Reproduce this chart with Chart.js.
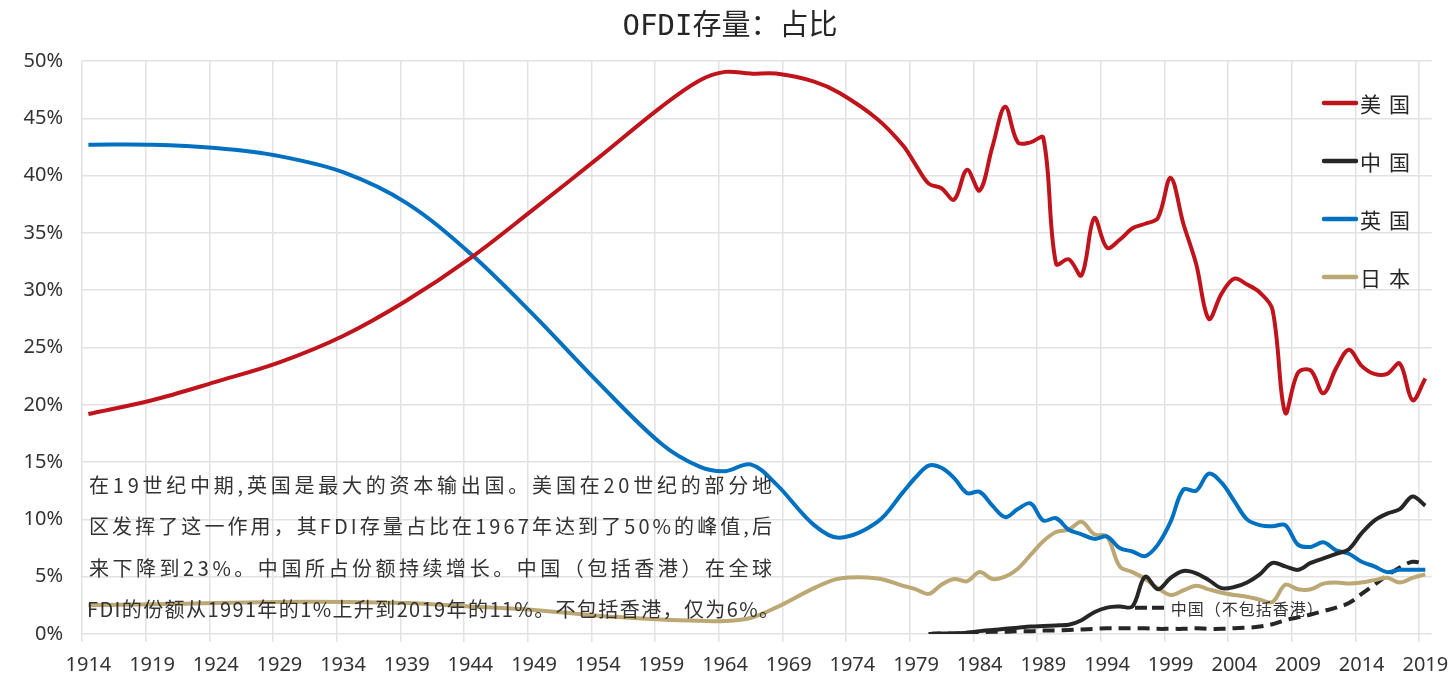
<!DOCTYPE html>
<html>
<head>
<meta charset="utf-8">
<script src="https://cdn.jsdelivr.net/npm/chart.js@4.4.1/dist/chart.umd.min.js"></script>
<style>
  html, body { margin: 0; padding: 0; background: #fff; }
  #wrap { width: 1453px; height: 692px; }
</style>
</head>
<body>
<div id="wrap"><canvas id="ofdiChart" width="1453" height="692"></canvas></div>
<script>
// años (antes de 1979 la curva es suave)
const years = [1914, 1919, 1924, 1929, 1934, 1939, 1944, 1949, 1954, 1959, 1962, 1964, 1966, 1968, 1971, 1973, 1976, 1978,
  1979, 1980, 1981, 1982, 1983, 1984, 1985, 1986, 1987, 1988, 1989, 1990, 1991, 1992, 1993, 1994, 1995, 1996, 1997, 1998, 1999,
  2000, 2001, 2002, 2003, 2004, 2005, 2006, 2007, 2008, 2009, 2010, 2011, 2012, 2013, 2014, 2015, 2016, 2017, 2018, 2019];

// % del stock mundial de OFDI
const usShare = [19.2, 20.4, 22.0, 23.7, 26.0, 29.1, 32.8, 37.1, 41.5, 46.0, 48.3, 49.05, 48.9, 48.9, 48.2, 47.2, 44.9, 42.6,
  40.9, 39.3, 38.9, 37.9, 40.5, 38.7, 42.5, 46.0, 42.9, 42.9, 43.3, 32.3, 32.7, 31.3, 36.3, 33.7, 34.4, 35.4, 35.8, 36.3, 39.8,
  35.8, 32.3, 27.5, 29.7, 31.0, 30.5, 29.8, 28.3, 19.3, 22.8, 23.0, 21.0, 23.2, 24.8, 23.4, 22.7, 22.7, 23.6, 20.4, 22.3];

const ukShare = [42.7, 42.7, 42.4, 41.7, 40.3, 37.6, 33.2, 27.8, 22.0, 16.6, 14.6, 14.2, 14.8, 13.1, 9.5, 8.4, 9.8, 12.4,
  13.7, 14.7, 14.5, 13.6, 12.3, 12.4, 11.2, 10.2, 10.9, 11.4, 9.9, 10.1, 9.1, 8.7, 8.3, 8.5, 7.5, 7.2, 6.8, 7.8, 9.8,
  12.6, 12.5, 14.0, 13.2, 11.6, 10.0, 9.5, 9.4, 9.5, 7.8, 7.6, 8.0, 7.3, 7.0, 6.3, 5.9, 5.4, 5.6, 5.6, 5.6];

const jpShare = [2.5, 2.6, 2.7, 2.8, 2.8, 2.7, 2.4, 2.1, 1.6, 1.27, 1.15, 1.13, 1.4, 2.3, 4.0, 4.85, 4.85, 4.2,
  3.9, 3.5, 4.3, 4.8, 4.6, 5.4, 4.8, 5.0, 5.7, 6.9, 8.1, 8.9, 9.1, 9.8, 8.7, 8.5, 5.9, 5.4, 4.8, 4.0, 3.4,
  3.8, 4.2, 3.9, 3.6, 3.4, 3.25, 3.0, 2.8, 4.3, 3.9, 3.9, 4.4, 4.5, 4.4, 4.5, 4.7, 4.9, 4.5, 4.9, 5.2];

const cnShare = [null, null, null, null, null, null, null, null, null, null, null, null, null, null, null, null, null, null,
  null, 0.0, 0.05, 0.05, 0.1, 0.25, 0.35, 0.45, 0.55, 0.65, 0.7, 0.75, 0.8, 1.2, 1.9, 2.3, 2.4, 2.4, 5.0, 3.9, 4.9,
  5.5, 5.3, 4.7, 4.0, 4.1, 4.5, 5.2, 6.2, 5.9, 5.6, 6.2, 6.6, 7.0, 7.4, 8.8, 9.9, 10.5, 10.9, 12.0, 11.2];

const cnExHkShare = [null, null, null, null, null, null, null, null, null, null, null, null, null, null, null, null, null, null,
  null, 0.0, 0.05, 0.05, 0.1, 0.15, 0.2, 0.2, 0.25, 0.25, 0.3, 0.3, 0.35, 0.4, 0.45, 0.5, 0.5, 0.5, 0.5, 0.45, 0.45,
  0.45, 0.5, 0.45, 0.45, 0.5, 0.55, 0.65, 0.85, 1.2, 1.45, 1.7, 2.0, 2.3, 2.7, 3.5, 4.3, 5.1, 5.8, 6.3, 6.1];

const yTicks = [0, 5, 10, 15, 20, 25, 30, 35, 40, 45, 50];

const titulo = 'OFDI存量：占比';
const notaCn = '中国（不包括香港）';
const nota = [
  '在19世纪中期,英国是最大的资本输出国。美国在20世纪的部分地',
  '区发挥了这一作用，其FDI存量占比在1967年达到了50%的峰值,后',
  '来下降到23%。中国所占份额持续增长。中国（包括香港）在全球',
  'FDI的份额从1991年的1%上升到2019年的11%。不包括香港，仅为6%。'
];

const colores = { us: '#c0141c', cn: '#262626', uk: '#0070c0', jp: '#bca874' };
const leyenda = [
  { label: '美国', color: colores.us },
  { label: '中国', color: colores.cn },
  { label: '英国', color: colores.uk },
  { label: '日本', color: colores.jp }
];

const toPoints = (vals) => years.map((y, i) => ({ x: y, y: vals[i] }));

// dibuja texto repartido a un ancho fijo
function drawSpread(ctx, text, x, y, width) {
  const chars = Array.from(text);
  const natural = chars.reduce((s, c) => s + ctx.measureText(c).width, 0);
  const extra = chars.length > 1 ? (width - natural) / (chars.length - 1) : 0;
  let cx = x;
  chars.forEach(c => {
    ctx.fillText(c, cx, y);
    cx += ctx.measureText(c).width + extra;
  });
}

const extras = {
  id: 'extras',
  beforeDraw(chart) {
    const ctx = chart.ctx;
    ctx.save();
    ctx.fillStyle = '#fff';
    ctx.fillRect(0, 0, chart.width, chart.height);
    ctx.restore();
  },
  afterDatasetsDraw(chart) {
    const ctx = chart.ctx;
    const area = chart.chartArea;
    const xs = chart.scales.x, ys = chart.scales.y;
    ctx.save();

    // titulo
    ctx.fillStyle = '#262626';
    ctx.font = '29px "DejaVu Sans Mono", "Noto Sans CJK SC"';
    ctx.textAlign = 'center';
    ctx.textBaseline = 'middle';
    ctx.fillText(titulo, 730, 27);

    // leyenda
    ctx.textAlign = 'left';
    ctx.font = '21px "Noto Sans CJK SC"';
    leyenda.forEach((it, i) => {
      const y = area.top + 42 + i * 58;
      ctx.strokeStyle = it.color;
      ctx.lineWidth = 4.5;
      ctx.lineCap = 'round';
      ctx.beginPath();
      ctx.moveTo(1324, y);
      ctx.lineTo(1356, y);
      ctx.stroke();
      ctx.fillStyle = '#262626';
      drawSpread(ctx, it.label, 1360, y + 1, 50);
    });

    // etiqueta China sin Hong Kong
    const ly = ys.getPixelForValue(2.3);
    ctx.strokeStyle = colores.cn;
    ctx.lineWidth = 4;
    ctx.lineCap = 'butt';
    ctx.setLineDash([12, 5]);
    ctx.beginPath();
    ctx.moveTo(xs.getPixelForValue(1996.2), ly);
    ctx.lineTo(xs.getPixelForValue(1998.7), ly);
    ctx.stroke();
    ctx.setLineDash([]);
    ctx.fillStyle = '#333';
    ctx.font = '16px "Noto Sans CJK SC"';
    drawSpread(ctx, notaCn, xs.getPixelForValue(1999.0), ly + 1, 152);

    // nota
    ctx.font = '20px "Noto Sans CJK SC"';
    ctx.fillStyle = '#333';
    nota.forEach((line, i) => {
      const w = i === 3 ? 692 : 683;
      drawSpread(ctx, line, area.left + (i === 3 ? 5 : 7), 485 + i * 41.5, w);
    });

    ctx.restore();
  }
};

const ctx = document.getElementById('ofdiChart').getContext('2d');

const lineBase = { pointRadius: 0, pointHoverRadius: 0, borderWidth: 4, tension: 0.35, fill: false };

new Chart(ctx, {
  type: 'line',
  data: {
    datasets: [
      { ...lineBase, label: '美国', data: toPoints(usShare), borderColor: colores.us },
      { ...lineBase, label: '中国', data: toPoints(cnShare), borderColor: colores.cn },
      { ...lineBase, label: '英国', data: toPoints(ukShare), borderColor: colores.uk },
      { ...lineBase, label: '日本', data: toPoints(jpShare), borderColor: colores.jp },
      { ...lineBase, label: '中国（不包括香港）', data: toPoints(cnExHkShare), borderColor: colores.cn, borderDash: [12, 7] }
    ]
  },
  options: {
    responsive: false,
    animation: false,
    layout: { padding: { top: 61, right: 21, left: 0, bottom: 0 } },
    plugins: {
      legend: { display: false },
      title: { display: false },
      tooltip: { enabled: false }
    },
    scales: {
      x: {
        type: 'linear',
        min: 1913.5,
        max: 2019.5,
        afterBuildTicks: (scale) => {
          const t = [];
          for (let k = 0; k <= 21; k++) t.push({ value: 1913.5 + 5 * k });
          scale.ticks = t;
        },
        afterFit: (scale) => { scale.height = 58; },
        ticks: {
          autoSkip: false,
          maxRotation: 0,
          labelOffset: 6.4,
          padding: 11,
          color: '#333',
          font: { family: 'Noto Sans', size: 20 },
          callback: (v) => String(Math.round(v + 0.5))
        },
        grid: { color: '#e2e2e2', lineWidth: 1.5, tickLength: 8 },
        border: { display: false }
      },
      y: {
        min: 0,
        max: 50,
        afterBuildTicks: (scale) => { scale.ticks = yTicks.map(v => ({ value: v })); },
        afterFit: (scale) => { scale.width = 82; },
        ticks: {
          padding: 19,
          color: '#333',
          font: { family: 'Noto Sans', size: 20 },
          callback: (v) => v + '%'
        },
        grid: { color: '#e2e2e2', lineWidth: 1.5, drawTicks: false },
        border: { display: false }
      }
    }
  },
  plugins: [extras]
});
</script>
</body>
</html>
